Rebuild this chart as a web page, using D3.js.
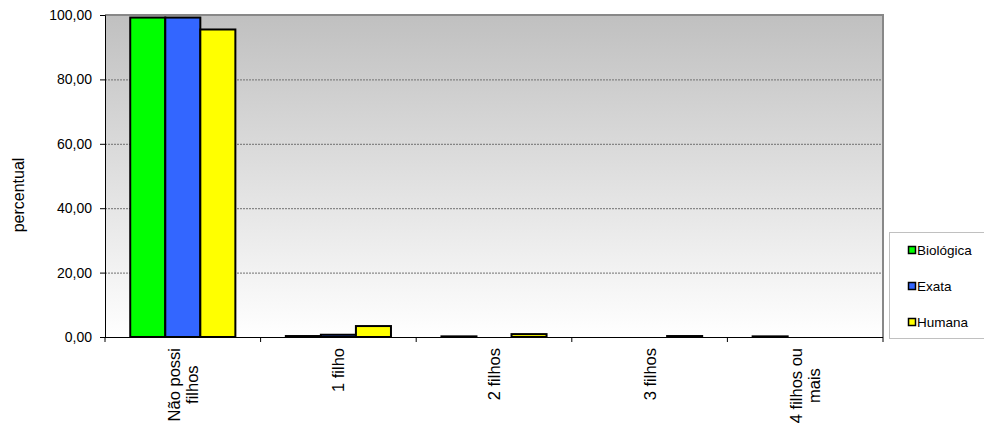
<!DOCTYPE html>
<html>
<head>
<meta charset="utf-8">
<script src="https://cdn.jsdelivr.net/npm/d3@7"></script>
<style>
  body { margin: 0; background: #fff; }
  text { font-family: "Liberation Sans", Arial, sans-serif; fill: #000; }
</style>
</head>
<body>
<svg id="chart" width="984" height="427"></svg>
<script>
// categories (each label split in its lines) and the three series
var categories = ["Não possi filhos", "1 filho", "2 filhos", "3 filhos", "4 filhos ou mais"];
var categoryLines = [["Não possi", "filhos"], ["1 filho"], ["2 filhos"], ["3 filhos"], ["4 filhos ou", "mais"]];
var seriesNames = ["Biológica", "Exata", "Humana"];
var biologica = [99.2, 0.3, 0.2, 0.0, 0.2];
var exata     = [99.2, 0.7, 0.0, 0.0, 0.0];
var humana    = [95.5, 3.4, 0.9, 0.3, 0.0];
var yTicks = [0, 20, 40, 60, 80, 100];

var colors = {"Biológica": "#00ff00", "Exata": "#3366ff", "Humana": "#ffff00"};
var series = [biologica, exata, humana];

var svg = d3.select('#chart');
// note: "top" is taken by window.top, so plot edges get their own names
var plotLeft = 105, plotTop = 15, plotRight = 883, plotBottom = 337;

var x = d3.scaleBand().domain(categories).range([plotLeft, plotRight]);
var xs = d3.scaleBand().domain(seriesNames).range([0, x.bandwidth()]).paddingInner(0).paddingOuter(0.72);
var y = d3.scaleLinear().domain([0, 100]).range([plotBottom, plotTop]);

// plot background gradient, grey at top to white at bottom
var grad = svg.append('defs').append('linearGradient')
  .attr('id', 'bg').attr('x1', 0).attr('y1', 0).attr('x2', 0).attr('y2', 1);
grad.append('stop').attr('offset', '0%').attr('stop-color', '#c0c0c0');
grad.append('stop').attr('offset', '100%').attr('stop-color', '#ffffff');

svg.append('rect')
  .attr('x', plotLeft).attr('y', plotTop)
  .attr('width', plotRight - plotLeft).attr('height', plotBottom - plotTop)
  .attr('fill', 'url(#bg)');

// gridlines
svg.append('g').selectAll('line')
  .data(yTicks.filter(function (d) { return d > 0 && d < 100; }))
  .enter().append('line')
  .attr('x1', plotLeft).attr('x2', plotRight)
  .attr('y1', function (d) { return y(d) + 0.5; })
  .attr('y2', function (d) { return y(d) + 0.5; })
  .attr('stroke', '#707070').attr('stroke-width', 1)
  .attr('stroke-dasharray', '2,1');

// grey top and right border of the plot area
svg.append('path')
  .attr('d', 'M' + plotLeft + ',' + plotTop + 'H' + plotRight + 'V' + plotBottom)
  .attr('fill', 'none').attr('stroke', '#888').attr('stroke-width', 2);

// bars
var groups = svg.append('g').selectAll('g')
  .data(categories)
  .enter().append('g')
  .attr('transform', function (d) { return 'translate(' + x(d) + ',0)'; });

groups.selectAll('rect')
  .data(function (d, i) {
    return seriesNames.map(function (s, j) { return {name: s, value: series[j][i]}; })
      .filter(function (b) { return b.value > 0; });
  })
  .enter().append('rect')
  .attr('x', function (d) { return xs(d.name); })
  .attr('width', xs.bandwidth())
  .attr('y', function (d) { return y(d.value); })
  .attr('height', function (d) { return y(0) - y(d.value); })
  .attr('fill', function (d) { return colors[d.name]; })
  .attr('stroke', '#000').attr('stroke-width', 2);

// y axis
var fmt = d3.formatLocale({decimal: ',', thousands: '.', grouping: [3], currency: ['', '']}).format('.2f');
var yAxis = svg.append('g')
  .attr('transform', 'translate(' + plotLeft + ',0)')
  .call(d3.axisLeft(y).tickValues(yTicks).tickSize(5).tickPadding(8).tickFormat(fmt));
yAxis.select('.domain').attr('stroke', '#000');
yAxis.selectAll('.tick line').attr('stroke', '#000');
yAxis.selectAll('text').style('font-size', '14px').attr('fill', '#000')
  .attr('font-family', '"Liberation Sans", Arial, sans-serif');

// x axis line and ticks at the category boundaries
svg.append('line')
  .attr('x1', plotLeft - 5).attr('x2', plotRight).attr('y1', plotBottom + 0.5).attr('y2', plotBottom + 0.5)
  .attr('stroke', '#000');
svg.append('g').selectAll('line')
  .data(categories.concat(['end']))
  .enter().append('line')
  .attr('x1', function (d) { return d === 'end' ? plotRight : x(d); })
  .attr('x2', function (d) { return d === 'end' ? plotRight : x(d); })
  .attr('y1', plotBottom).attr('y2', plotBottom + 5)
  .attr('stroke', '#000');

// rotated category labels, lines centred, block hanging from below the axis
categories.forEach(function (c, i) {
  var lines = categoryLines[i];
  var g = svg.append('g')
    .attr('transform', 'translate(' + (x(c) + x.bandwidth() / 2) + ',348) rotate(-90)');
  var t = g.append('text').style('font-size', '16.5px');
  lines.forEach(function (l, k) {
    t.append('tspan').attr('x', 0).attr('y', (k - (lines.length - 1) / 2) * 18 + 6).text(l);
  });
  var w = t.node().getBBox().width;
  t.attr('text-anchor', 'middle');
  t.selectAll('tspan').attr('x', -w / 2);
});

// y axis title
svg.append('text')
  .attr('transform', 'translate(24,' + ((plotTop + plotBottom) / 2 + 19) + ') rotate(-90)')
  .attr('text-anchor', 'middle')
  .style('font-size', '16px')
  .text('percentual');

// legend
var legend = svg.append('g');
legend.append('rect')
  .attr('x', 889.5).attr('y', 232.5).attr('width', 100).attr('height', 106)
  .attr('fill', '#fff').attr('stroke', '#c0c0c0');
var items = legend.selectAll('g.item')
  .data(seriesNames)
  .enter().append('g')
  .attr('transform', function (d, i) { return 'translate(908,' + (250 + i * 36) + ')'; });
items.append('rect')
  .attr('x', 0.5).attr('y', -3.5).attr('width', 7).attr('height', 7)
  .attr('fill', function (d) { return colors[d]; })
  .attr('stroke', '#000').attr('stroke-width', 1.5);
items.append('text')
  .attr('x', 9).attr('y', 5)
  .style('font-size', '13.5px')
  .text(function (d) { return d; });
</script>
</body>
</html>
